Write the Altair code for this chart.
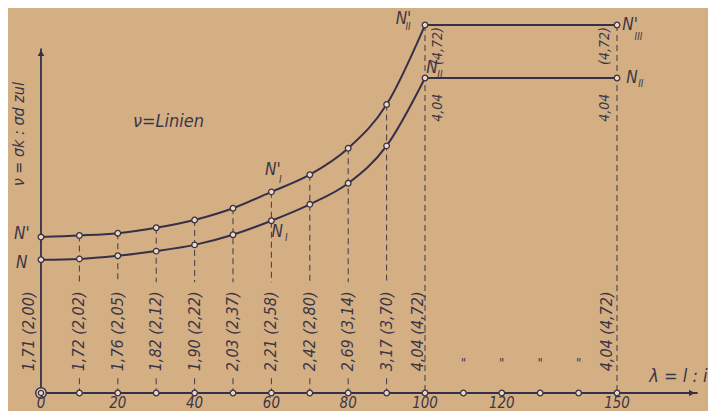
import altair as alt
import pandas as pd

# ---- data ----
lam = [0, 10, 20, 30, 40, 50, 60, 70, 80, 90, 100]
nu_N = [1.71, 1.72, 1.76, 1.82, 1.90, 2.03, 2.21, 2.42, 2.69, 3.17, 4.04]
nu_Np = [2.00, 2.02, 2.05, 2.12, 2.22, 2.37, 2.58, 2.80, 3.14, 3.70, 4.72]
lam_end = 150
axis_points = [10, 20, 30, 40, 50, 60, 70, 80, 90, 100, 110, 120, 130, 140, 150]
ditto_lam = [110, 120, 130, 140]
tick_labels = [0, 20, 40, 60, 80, 100, 120, 150]

BG = "#d5af84"
INK = "#35304a"
TXT = "#3b3646"
FONT = "DejaVu Sans Condensed, DejaVu Sans"
CIRCLE_FILL = "#ecd9ba"

X = alt.Scale(domain=[0, 150], nice=False, zero=False)
Y = alt.Scale(domain=[0, 4.9], nice=False, zero=False)


def fmt(v):
    return f"{v:.2f}".replace(".", ",")


def enc():
    return dict(x=alt.X("x:Q", scale=X, axis=None), y=alt.Y("y:Q", scale=Y, axis=None))


# curves
curve = pd.DataFrame({"x": lam * 2, "y": nu_N + nu_Np,
                      "s": ["N"] * len(lam) + ["Np"] * len(lam)})
flat = pd.DataFrame({"x": [lam[-1], lam[-1]], "x2": [lam_end, lam_end],
                     "y": [nu_N[-1], nu_Np[-1]]})
curve_pts = pd.concat([curve[["x", "y"]],
                       pd.DataFrame({"x": [lam_end, lam_end], "y": [nu_N[-1], nu_Np[-1]]})])

# dashed verticals (gap where the label is written)
dash_rows = []
for l, up in zip(lam[1:-1], nu_Np[1:-1]):
    dash_rows.append({"x": l, "y": up, "y2": 1.42})
    dash_rows.append({"x": l, "y": 0.19, "y2": 0})
dash_rows.append({"x": lam[-1], "y": nu_Np[-1], "y2": 0})
dash_rows.append({"x": lam_end, "y": nu_Np[-1], "y2": 0})
dash = pd.DataFrame(dash_rows)

# vertical labels near the axis
lab_rows = []
for l, a, b in zip(lam, nu_N, nu_Np):
    off = -3.2 if l == 0 else (-1.9 if l == 100 else 0)
    lab_rows.append({"x": l + off, "y": 0.79, "t": f"{fmt(a)} ({fmt(b)})"})
lab_rows.append({"x": lam_end - 2.7, "y": 0.79, "t": f"{fmt(nu_N[-1])} ({fmt(nu_Np[-1])})"})
labels = pd.DataFrame(lab_rows)

top_labels = pd.DataFrame({
    "x": [103.4, 103.4, 146.9, 146.9],
    "y": [4.45, 3.66, 4.45, 3.66],
    "t": [f"({fmt(nu_Np[-1])})", fmt(nu_N[-1]), f"({fmt(nu_Np[-1])})", fmt(nu_N[-1])],
})

dittos = pd.DataFrame({"x": ditto_lam, "y": [0.38] * len(ditto_lam), "t": ['"'] * len(ditto_lam)})
ticks = pd.DataFrame({"x": tick_labels, "y": [-0.13] * len(tick_labels), "t": [str(v) for v in tick_labels]})

names = pd.DataFrame({
    "x": [-5.0, -5.0, 60.4, 61.5, 94.4, 101.8, 153.4, 153.9],
    "y": [2.04, 1.67, 2.86, 2.07, 4.80, 4.17, 4.72, 4.04],
    "t": ["N'", "N", "N'", "N", "N'", "N", "N'", "N"],
})
subs = pd.DataFrame({
    "x": [62.3, 63.9, 95.6, 103.9, 155.6, 156.2],
    "y": [2.73, 1.99, 4.70, 4.08, 4.57, 3.96],
    "t": ["I", "I", "II", "II", "III", "II"],
})

dash_layer = alt.Chart(dash).mark_rule(color=INK, strokeWidth=1.1, strokeDash=[6, 4], opacity=0.85).encode(
    x=alt.X("x:Q", scale=X, axis=None), y=alt.Y("y:Q", scale=Y, axis=None), y2="y2:Q")

xaxis = alt.Chart(pd.DataFrame({"x": [0], "x2": [171], "y": [0]})).mark_rule(
    color=INK, strokeWidth=2).encode(x=alt.X("x:Q", scale=X, axis=None), x2="x2:Q",
                                     y=alt.Y("y:Q", scale=Y, axis=None))
yaxis = alt.Chart(pd.DataFrame({"x": [0], "y": [0], "y2": [4.42]})).mark_rule(
    color=INK, strokeWidth=1.8).encode(x=alt.X("x:Q", scale=X, axis=None),
                                       y=alt.Y("y:Q", scale=Y, axis=None), y2="y2:Q")
arrow_r = alt.Chart(pd.DataFrame({"x": [169.5], "y": [0]})).mark_point(
    shape="triangle-right", filled=True, color=INK, size=45, opacity=1).encode(**enc())
arrow_u = alt.Chart(pd.DataFrame({"x": [0], "y": [4.36]})).mark_point(
    shape="triangle-up", filled=True, color=INK, size=45, opacity=1).encode(**enc())

lines = alt.Chart(curve).mark_line(color=INK, strokeWidth=2, interpolate="monotone").encode(
    x=alt.X("x:Q", scale=X, axis=None), y=alt.Y("y:Q", scale=Y, axis=None), detail="s:N")
flat_layer = alt.Chart(flat).mark_rule(color=INK, strokeWidth=2).encode(
    x=alt.X("x:Q", scale=X, axis=None), x2="x2:Q", y=alt.Y("y:Q", scale=Y, axis=None))

pts = alt.Chart(curve_pts).mark_point(shape="circle", filled=True, fill=CIRCLE_FILL, stroke=INK,
                                      strokeWidth=1.3, size=32, opacity=1).encode(**enc())
axis_pts = alt.Chart(pd.DataFrame({"x": axis_points, "y": [0] * len(axis_points)})).mark_point(
    shape="circle", filled=True, fill=CIRCLE_FILL, stroke=INK, strokeWidth=1.3, size=32, opacity=1
).encode(**enc())
origin_out = alt.Chart(pd.DataFrame({"x": [0], "y": [0]})).mark_point(
    shape="circle", filled=True, fill=CIRCLE_FILL, stroke=INK, strokeWidth=1.5, size=110, opacity=1
).encode(**enc())
origin_in = alt.Chart(pd.DataFrame({"x": [0], "y": [0]})).mark_point(
    shape="circle", filled=True, fill=CIRCLE_FILL, stroke=INK, strokeWidth=1.3, size=28, opacity=1
).encode(**enc())


def text_layer(df, size, angle=0, align="center"):
    kw = dict(font=FONT, fontSize=size, fontStyle="italic", color=TXT,
              align=align, baseline="middle")
    if angle:
        kw["angle"] = angle
    return alt.Chart(df).mark_text(**kw).encode(
        x=alt.X("x:Q", scale=X, axis=None), y=alt.Y("y:Q", scale=Y, axis=None), text="t:N")


lab_layer = text_layer(labels, 16, angle=270)
top_layer = text_layer(top_labels, 14, angle=270)
ditto_layer = text_layer(dittos, 13)
tick_layer = text_layer(ticks, 15)
name_layer = text_layer(names, 17)
sub_layer = text_layer(subs, 10)

misc = pd.DataFrame({"x": [33.2, 166.0], "y": [3.48, 0.2], "t": ["ν=Linien", "λ = l : i"]})
misc_layer = text_layer(misc, 18)
ytitle = text_layer(pd.DataFrame({"x": [-5.6], "y": [3.32], "t": ["ν = σk : σd zul"]}), 16, angle=270)

chart = alt.layer(
    dash_layer, xaxis, yaxis, arrow_r, arrow_u, lines, flat_layer, pts, axis_pts,
    origin_out, origin_in, lab_layer, top_layer, ditto_layer, tick_layer,
    name_layer, sub_layer, misc_layer, ytitle,
).properties(
    width=576, height=382,
    autosize=alt.AutoSizeParams(type="none"),
    padding={"left": 33, "top": 3, "right": 91, "bottom": 18},
    background=BG,
).configure_view(strokeWidth=0)

chart.save("out.html", embed_options={"renderer": "svg", "actions": False})
